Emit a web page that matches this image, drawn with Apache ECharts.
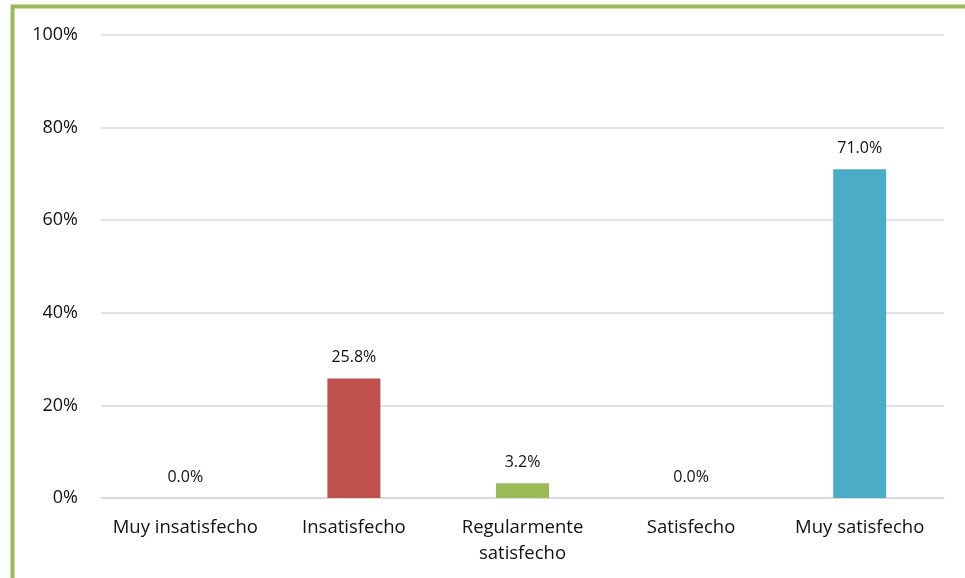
<!DOCTYPE html>
<html>
<head>
<meta charset="utf-8">
<script src="https://cdn.jsdelivr.net/npm/echarts@6/dist/echarts.min.js"></script>
<style>
html,body{margin:0;padding:0;background:#fff;}
#chart{width:965px;height:578px;}
</style>
</head>
<body>
<div id="chart"></div>
<script>
var categories = ['Muy insatisfecho', 'Insatisfecho', 'Regularmente\nsatisfecho', 'Satisfecho', 'Muy satisfecho'];
var values = [0.0, 25.8, 3.2, 0.0, 71.0];
var barColors = ['#C0504D', '#C0504D', '#9BBB59', '#8064A2', '#4BACC6'];
var yTicks = [0, 20, 40, 60, 80, 100];

var chart = echarts.init(document.getElementById('chart'));
var font = '"Open Sans", sans-serif';
chart.setOption({
  animation: false,
  backgroundColor: '#fff',
  graphic: [{
    type: 'polyline',
    shape: { points: [[12.5, 580], [12.5, 6.5], [970, 6.5]] },
    style: { stroke: '#9BBB59', lineWidth: 4, fill: null }
  }],
  grid: { left: 101, right: 21, top: 35, bottom: 80 },
  xAxis: {
    type: 'category',
    data: categories,
    axisLine: { lineStyle: { color: '#D9D9D9', width: 1.5 } },
    axisTick: { show: false },
    axisLabel: { color: '#111', fontSize: 18.5, fontFamily: font, margin: 17, lineHeight: 26, interval: 0 }
  },
  yAxis: {
    type: 'value',
    min: 0, max: 100, interval: 20,
    axisLine: { show: false },
    axisTick: { show: false },
    splitLine: { lineStyle: { color: '#D9D9D9', width: 1.5 } },
    axisLabel: { color: '#111', fontSize: 18, fontFamily: font, margin: 23, formatter: function (v) { return v + '%'; } }
  },
  series: [{
    type: 'bar',
    barWidth: 53,
    data: values.map(function (v, i) { return { value: v, itemStyle: { color: barColors[i] } }; }),
    label: {
      show: true, position: 'top', distance: 13,
      color: '#111', fontSize: 16, fontFamily: font,
      formatter: function (p) { return p.value.toFixed(1) + '%'; }
    }
  }]
});
</script>
</body>
</html>
